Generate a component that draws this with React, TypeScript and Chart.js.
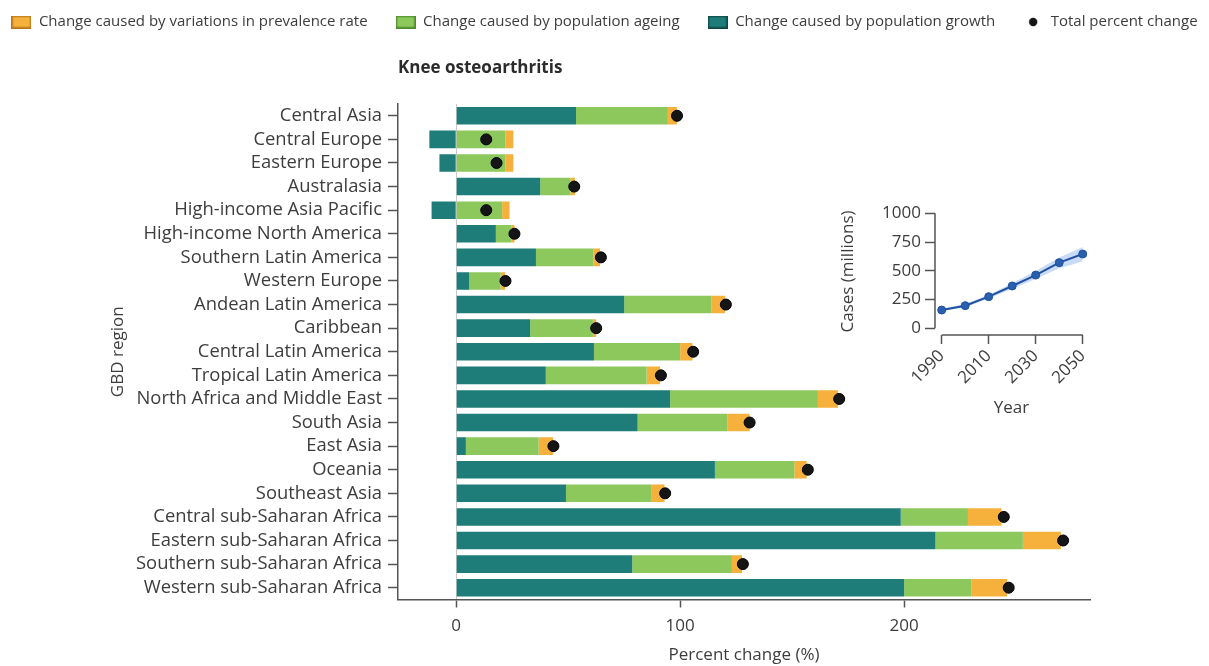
import React, { useEffect, useRef } from 'react';
import { Chart, registerables } from 'chart.js';

Chart.register(...registerables);

// ---------- main chart data ----------
const regions = [
  'Central Asia',
  'Central Europe',
  'Eastern Europe',
  'Australasia',
  'High-income Asia Pacific',
  'High-income North America',
  'Southern Latin America',
  'Western Europe',
  'Andean Latin America',
  'Caribbean',
  'Central Latin America',
  'Tropical Latin America',
  'North Africa and Middle East',
  'South Asia',
  'East Asia',
  'Oceania',
  'Southeast Asia',
  'Central sub-Saharan Africa',
  'Eastern sub-Saharan Africa',
  'Southern sub-Saharan Africa',
  'Western sub-Saharan Africa',
];
const growth = [53.5, -12, -7.5, 37.5, -11, 17.7, 35.6, 5.8, 75, 33, 61.5, 40, 95.5, 81, 4.3, 115.5, 49, 198.5, 214, 78.6, 200];
const ageing = [41, 22, 22, 13.5, 20.5, 7, 25.6, 14, 39, 28, 38.5, 45, 66, 40, 32.5, 35.5, 38, 30, 39, 44.5, 30];
const prevalence = [4, 3.5, 3.5, 2, 3.3, 1.3, 3, 2, 6, 1.5, 5.5, 6, 9, 10, 6.5, 5.5, 6, 15, 17, 4.5, 16];
const total = [98.6, 13.4, 18, 52.7, 13.4, 26, 64.6, 22, 120.4, 62.5, 105.8, 91.4, 171, 131, 43.4, 157, 93.3, 244.5, 271, 128, 246.7];
const xTicks = [0, 100, 200];

const legendTexts = [
  'Change caused by variations in prevalence rate',
  'Change caused by population ageing',
  'Change caused by population growth',
  'Total percent change',
];

// ---------- inset data ----------
const years = [1990, 2000, 2010, 2020, 2030, 2040, 2050];
const cases = [159, 197, 275, 368, 463, 571, 646];
const casesUpper = [170, 211, 292, 392, 498, 615, 708];
const casesLower = [149, 184, 259, 344, 428, 523, 582];
const insetYTicks = [0, 250, 500, 750, 1000];
const insetXTicks = [1990, 2010, 2030, 2050];

// ---------- styles ----------
const FONT = "'Open Sans', sans-serif";
const TEXT = '#3d3d3d';
const AXIS = '#555555';
const ORANGE = '#f6b13d';
const GREEN = '#8cc85c';
const TEAL = '#1e7d79';
const DOT = '#151515';
const LINE_BLUE = '#1f52a0';

function boxImage(fill: string, stroke: string): HTMLCanvasElement {
  const c = document.createElement('canvas');
  c.width = 20;
  c.height = 13;
  const g = c.getContext('2d')!;
  g.fillStyle = fill;
  g.fillRect(0, 0, 20, 13);
  g.strokeStyle = stroke;
  g.lineWidth = 1.5;
  g.strokeRect(0.75, 0.75, 18.5, 11.5);
  return c;
}

function dotImage(): HTMLCanvasElement {
  const c = document.createElement('canvas');
  c.width = 10;
  c.height = 10;
  const g = c.getContext('2d')!;
  g.fillStyle = DOT;
  g.beginPath();
  g.arc(5, 5, 4.2, 0, Math.PI * 2);
  g.fill();
  return c;
}

const insetAxisLines = {
  id: 'insetAxisLines',
  afterDraw(chart: any) {
    const { ctx, chartArea, scales } = chart;
    const x = scales.x;
    const y = scales.y;
    ctx.save();
    ctx.strokeStyle = AXIS;
    ctx.lineWidth = 1.5;
    ctx.beginPath();
    ctx.moveTo(chartArea.left, y.getPixelForValue(insetYTicks[0]));
    ctx.lineTo(chartArea.left, y.getPixelForValue(insetYTicks[insetYTicks.length - 1]));
    ctx.moveTo(x.getPixelForValue(insetXTicks[0]), chartArea.bottom);
    ctx.lineTo(x.getPixelForValue(insetXTicks[insetXTicks.length - 1]), chartArea.bottom);
    ctx.stroke();
    ctx.restore();
  },
};

export default function App() {
  const mainRef = useRef<HTMLCanvasElement | null>(null);
  const insetRef = useRef<HTMLCanvasElement | null>(null);

  useEffect(() => {
    if (!mainRef.current || !insetRef.current) return;

    const legendImages = [
      boxImage(ORANGE, '#b9771a'),
      boxImage(GREEN, '#4d8a2c'),
      boxImage(TEAL, '#0f4845'),
      dotImage(),
    ];
    const legendFills = [ORANGE, GREEN, TEAL, DOT];

    const main = new Chart(mainRef.current, {
      type: 'bar',
      data: {
        labels: regions,
        datasets: [
          {
            type: 'line',
            label: legendTexts[3],
            data: regions.map((r, i) => ({ x: total[i], y: r })),
            showLine: false,
            pointRadius: 5.5,
            pointHoverRadius: 5.5,
            pointBackgroundColor: DOT,
            pointBorderColor: '#000',
            pointBorderWidth: 1,
            stack: 'total',
          } as any,
          {
            label: legendTexts[2],
            data: growth,
            backgroundColor: TEAL,
            borderWidth: 0,
            stack: 'bars',
          },
          {
            label: legendTexts[1],
            data: ageing,
            backgroundColor: GREEN,
            borderWidth: 0,
            stack: 'bars',
          },
          {
            label: legendTexts[0],
            data: prevalence,
            backgroundColor: ORANGE,
            borderWidth: 0,
            stack: 'bars',
          },
        ],
      },
      options: {
        responsive: false,
        animation: false,
        devicePixelRatio: 1,
        indexAxis: 'y',
        datasets: { bar: { barPercentage: 0.745, categoryPercentage: 1 } },
        layout: { padding: { top: -13.5, left: -30, right: -30, bottom: 0 } },
        plugins: {
          tooltip: { enabled: false },
          legend: {
            display: true,
            position: 'top',
            align: 'center',
            labels: {
              usePointStyle: true,
              pointStyleWidth: 20,
              boxHeight: 13,
              padding: 28,
              font: { family: FONT, size: 15 },
              color: TEXT,
              generateLabels: () =>
                legendTexts.map((t, i) => ({
                  text: t,
                  pointStyle: legendImages[i] as any,
                  fillStyle: legendFills[i],
                  strokeStyle: legendFills[i],
                  lineWidth: 0,
                  hidden: false,
                  fontColor: TEXT,
                  datasetIndex: 3 - i,
                })),
            },
          },
          title: {
            display: true,
            text: 'Knee osteoarthritis',
            align: 'start',
            fullSize: false,
            weight: 500,
            color: '#2b2b2b',
            font: { family: FONT, size: 17, weight: 'bold' },
            padding: { top: 18.3, bottom: 25.8 },
          },
        },
        scales: {
          x: {
            type: 'linear',
            stacked: true,
            min: -26,
            max: 283,
            afterBuildTicks: (s: any) => {
              s.ticks = xTicks.map((v) => ({ value: v }));
            },
            grid: {
              color: (c: any) => (c.tick && c.tick.value === 0 ? '#c9c9c9' : 'rgba(0,0,0,0)'),
              lineWidth: 1,
              tickColor: AXIS,
              tickWidth: 1.5,
              tickLength: 8,
            },
            border: { display: true, color: AXIS, width: 1.5 },
            ticks: { font: { family: FONT, size: 17 }, color: TEXT, padding: 8 },
            title: {
              display: true,
              text: 'Percent change (%)',
              font: { family: FONT, size: 17 },
              color: TEXT,
              padding: { top: 0, bottom: 1 },
            },
            afterFit: (s: any) => {
              s.height = 66.5;
            },
          },
          y: {
            type: 'category',
            stacked: true,
            grid: {
              offset: false,
              drawOnChartArea: false,
              color: 'rgba(0,0,0,0)',
              tickColor: AXIS,
              tickWidth: 1.5,
              tickLength: 10,
            },
            border: { display: true, color: AXIS, width: 1.5 },
            ticks: { font: { family: FONT, size: 18.4 }, color: TEXT, padding: 6, autoSkip: false },
            title: {
              display: true,
              text: 'GBD region',
              font: { family: FONT, size: 17 },
              color: TEXT,
              padding: { top: 137.8, bottom: 0 },
            },
            afterFit: (s: any) => {
              s.width = 428;
            },
          },
          yRight: {
            type: 'linear',
            position: 'right',
            display: true,
            grid: { display: false },
            border: { display: false },
            ticks: { display: false },
            afterFit: (s: any) => {
              s.width = 149;
            },
          },
        },
      } as any,
    });

    const inset = new Chart(insetRef.current, {
      type: 'line',
      data: {
        datasets: [
          {
            label: 'Cases',
            data: years.map((yr, i) => ({ x: yr, y: cases[i] })),
            borderColor: LINE_BLUE,
            backgroundColor: LINE_BLUE,
            borderWidth: 2,
            pointRadius: 4,
            pointBackgroundColor: '#2a5fae',
            pointBorderColor: LINE_BLUE,
            pointBorderWidth: 1,
            fill: false,
          },
          {
            label: 'Upper',
            data: years.map((yr, i) => ({ x: yr, y: casesUpper[i] })),
            borderWidth: 0,
            borderColor: 'rgba(0,0,0,0)',
            pointRadius: 0,
            fill: false,
          },
          {
            label: 'Lower',
            data: years.map((yr, i) => ({ x: yr, y: casesLower[i] })),
            borderWidth: 0,
            borderColor: 'rgba(0,0,0,0)',
            pointRadius: 0,
            fill: '-1',
            backgroundColor: 'rgba(90,145,230,0.33)',
          },
        ],
      },
      options: {
        responsive: false,
        animation: false,
        devicePixelRatio: 1,
        layout: { padding: { top: 18, right: 12, left: 0, bottom: 0 } },
        plugins: { legend: { display: false }, tooltip: { enabled: false } },
        scales: {
          x: {
            type: 'linear',
            min: 1987.15,
            max: 2052.25,
            afterBuildTicks: (s: any) => {
              s.ticks = insetXTicks.map((v) => ({ value: v }));
            },
            grid: { drawOnChartArea: false, tickColor: AXIS, tickWidth: 1.5, tickLength: 9 },
            border: { display: false },
            ticks: {
              font: { family: FONT, size: 17 },
              color: TEXT,
              minRotation: 45,
              maxRotation: 45,
              autoSkip: false,
              padding: 2,
              callback: (v: any) => String(v),
            },
            title: {
              display: true,
              text: 'Year',
              font: { family: FONT, size: 17 },
              color: TEXT,
              padding: { top: 0, bottom: 21.8 },
            },
            afterFit: (s: any) => {
              s.height = 105;
            },
          },
          y: {
            type: 'linear',
            min: -58,
            max: 1046,
            afterBuildTicks: (s: any) => {
              s.ticks = insetYTicks.map((v) => ({ value: v }));
            },
            grid: { drawOnChartArea: false, tickColor: AXIS, tickWidth: 1.5, tickLength: 10 },
            border: { display: false },
            ticks: {
              font: { family: FONT, size: 17 },
              color: TEXT,
              padding: 4,
              callback: (v: any) => String(v),
            },
            title: {
              display: true,
              text: 'Cases (millions)',
              font: { family: FONT, size: 17 },
              color: TEXT,
              padding: { top: 17.8, bottom: 0 },
            },
            afterFit: (s: any) => {
              s.width = 115;
            },
          },
        },
      } as any,
      plugins: [insetAxisLines],
    });

    return () => {
      main.destroy();
      inset.destroy();
    };
  }, []);

  return (
    <div style={{ position: 'absolute', left: 0, top: 0, width: 1209, height: 666, background: '#ffffff' }}>
      <canvas
        ref={mainRef}
        width={1209}
        height={666}
        style={{ position: 'absolute', left: 0, top: 0, width: 1209, height: 666, display: 'block' }}
      />
      <canvas
        ref={insetRef}
        width={280}
        height={250}
        style={{ position: 'absolute', left: 820, top: 190, width: 280, height: 250, display: 'block' }}
      />
    </div>
  );
}
